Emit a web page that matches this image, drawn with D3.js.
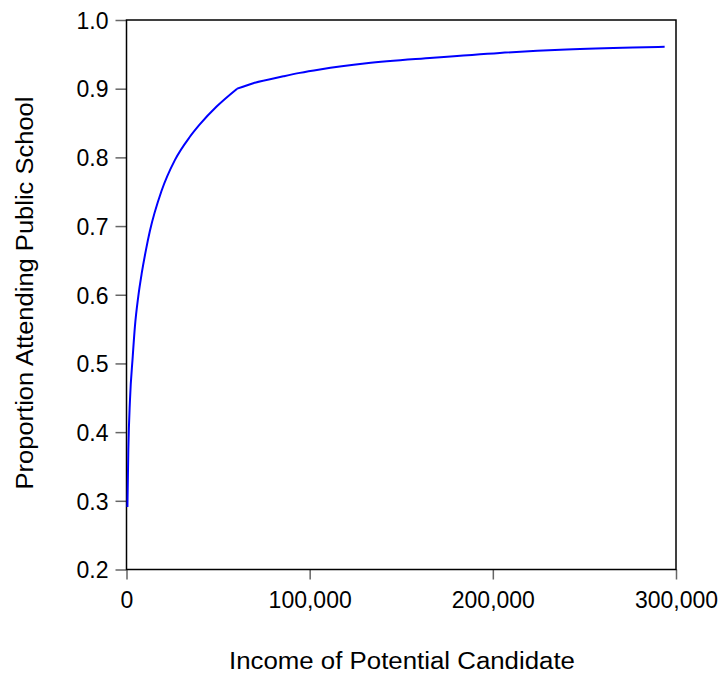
<!DOCTYPE html>
<html><head><meta charset="utf-8">
<script src="https://cdn.jsdelivr.net/npm/d3@7"></script>
<style>body{margin:0;background:#fff}svg{display:block}text{font-family:"Liberation Sans",Arial,sans-serif;fill:#000}</style>
</head><body>
<svg id="c" width="725" height="681"></svg>
<script>
const income = [500, 1000, 1900, 3400, 4600, 6400, 8300, 10600, 12700, 19100, 26400, 34600, 40000, 49200, 60400, 69200, 85600, 94650, 105600, 131000, 167400, 203800, 240200, 276500, 293800];
const proportion = [0.291, 0.374, 0.447, 0.510, 0.554, 0.597, 0.631, 0.665, 0.692, 0.751, 0.796, 0.830, 0.848, 0.874, 0.900, 0.908, 0.918, 0.923, 0.928, 0.937, 0.945, 0.952, 0.957, 0.960, 0.961];
const kinkIncome = 60400;
const xTicks = [0, 100000, 200000, 300000];
const yTicks = [0.2, 0.3, 0.4, 0.5, 0.6, 0.7, 0.8, 0.9, 1.0];
const xTitle = "Income of Potential Candidate";
const yTitle = "Proportion Attending Public School";

const L = 126.5, R = 676, T = 20, B = 569.5;
const svg = d3.select("#c");
const x = d3.scaleLinear().domain([0, 300000]).range([L, R]);
const y = d3.scaleLinear().domain([0.2, 1.0]).range([B, T]);

const fmtX = d3.format(",");
const xAxis = svg.append("g").attr("transform", `translate(0,${B})`)
  .call(d3.axisBottom(x).tickValues(xTicks).tickFormat(fmtX).tickSize(10).tickPadding(12));
const yAxis = svg.append("g").attr("transform", `translate(${L},0)`)
  .call(d3.axisLeft(y).tickValues(yTicks).tickFormat(d3.format(".1f")).tickSize(11).tickPadding(7));
[xAxis, yAxis].forEach(a => {
  a.select(".domain").remove();
  a.selectAll(".tick line").attr("stroke", "#666").attr("stroke-width", 1.5);
  a.selectAll(".tick text").style("font-size", "23px").attr("fill", "#000")
    .style("font-family", '"Liberation Sans",Arial,sans-serif');
});
yAxis.selectAll(".tick text").attr("dy", "0.36em");

svg.append("rect").attr("x", L).attr("y", T).attr("width", R - L).attr("height", B - T)
  .attr("fill", "none").attr("stroke", "#000").attr("stroke-width", 1.5);

const pts = income.map((v, i) => [v, proportion[i]]);
const seg1 = pts.filter(d => d[0] <= kinkIncome);
const seg2 = pts.filter(d => d[0] >= kinkIncome);
const line = d3.line().x(d => x(d[0])).y(d => y(d[1])).curve(d3.curveMonotoneX);
[seg1, seg2].forEach(s => svg.append("path").datum(s)
  .attr("fill", "none").attr("stroke", "#0000ff").attr("stroke-width", 2)
  .attr("stroke-linejoin", "round").attr("d", line));

svg.append("text").attr("x", 402).attr("y", 669).attr("text-anchor", "middle")
  .style("font-size", "23px").attr("textLength", 346).attr("lengthAdjust", "spacingAndGlyphs").text(xTitle);
svg.append("text").attr("transform", "translate(33,293) rotate(-90)").attr("text-anchor", "middle")
  .style("font-size", "23px").attr("textLength", 393).attr("lengthAdjust", "spacingAndGlyphs").text(yTitle);
</script>
</body></html>
